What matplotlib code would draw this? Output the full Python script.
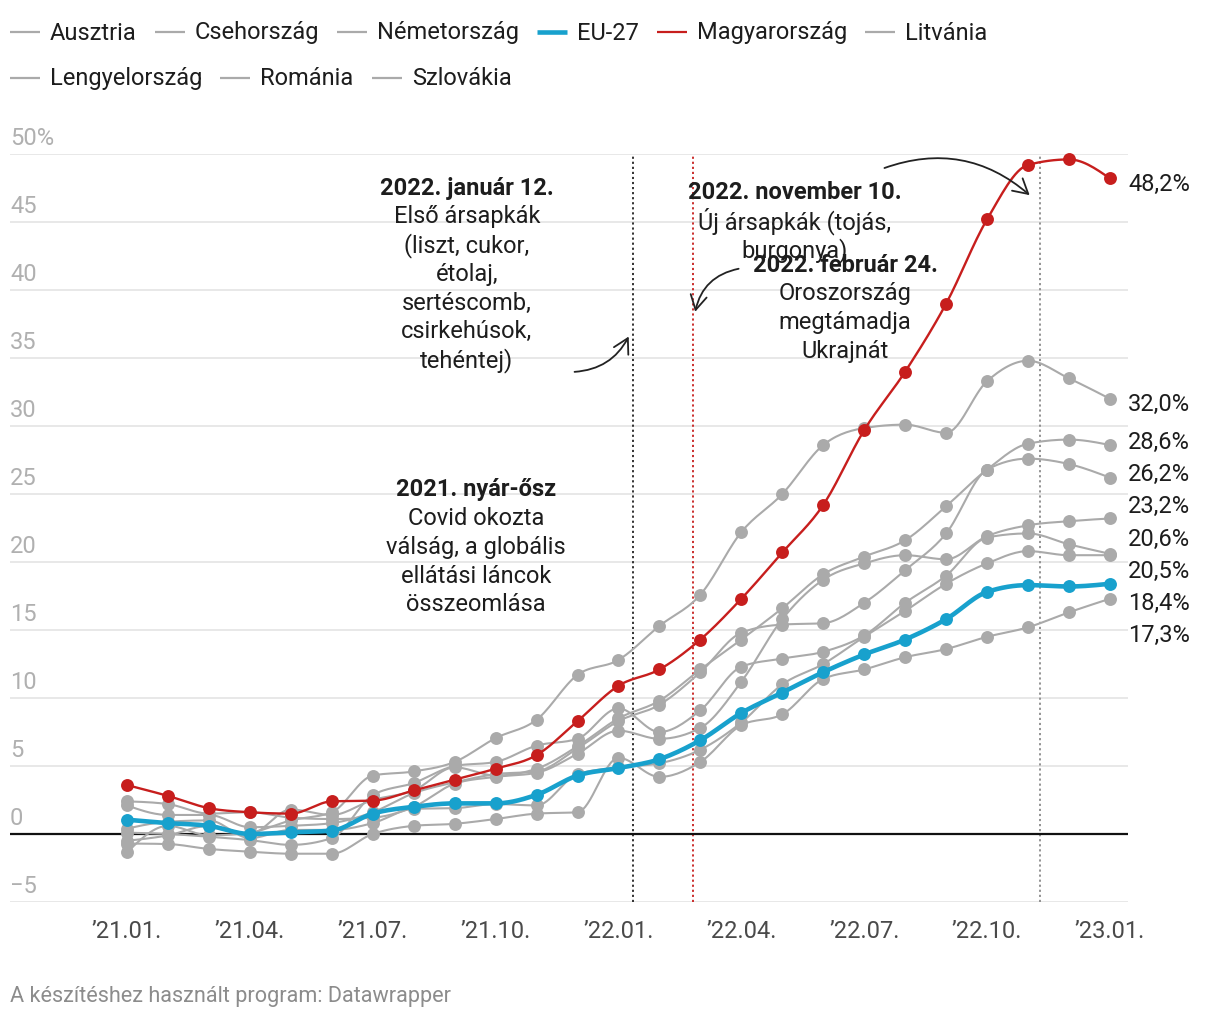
import numpy as np
import matplotlib
matplotlib.use("Agg")
import matplotlib.pyplot as plt
from matplotlib.patches import FancyArrowPatch
from matplotlib.lines import Line2D
import datetime

plt.rcParams['font.family'] = ['Roboto', 'DejaVu Sans']

# ---------------- data ----------------
tick_labels = ["’21.01.", "’21.04.", "’21.07.", "’21.10.", "’22.01.",
               "’22.04.", "’22.07.", "’22.10.", "’23.01."]
start_year, start_month = 2021, 1

magyarorszag = [3.6, 2.8, 1.9, 1.6, 1.5, 2.4, 2.45, 3.2, 4.0, 4.8, 5.8, 8.3, 10.9,
                12.1, 14.3, 17.3, 20.7, 24.2, 29.7, 34.0, 39.0, 45.2, 49.2, 49.6, 48.2]
eu27 = [1.05, 0.8, 0.6, 0.0, 0.12, 0.25, 1.5, 2.0, 2.25, 2.25, 2.88, 4.3, 4.85,
        5.5, 6.9, 8.9, 10.4, 11.9, 13.2, 14.3, 15.8, 17.8, 18.3, 18.2, 18.4]
litvania = [-1.35, 0.6, -0.1, 0.1, 1.0, 1.6, 4.3, 4.6, 5.3, 7.05, 8.4, 11.7, 12.8,
            15.3, 17.6, 22.2, 25.0, 28.6, 29.85, 30.1, 29.5, 33.3, 34.8, 33.5, 32.0]
szlovakia = [-0.5, -0.1, 0.6, 0.0, 1.8, 1.4, 2.5, 3.2, 4.9, 4.3, 4.8, 6.45, 8.5,
             9.8, 12.1, 14.3, 16.6, 19.1, 20.4, 21.6, 24.1, 26.8, 28.7, 29.0, 28.6]
csehorszag = [2.1, 1.4, 1.4, 0.5, 0.6, 0.8, 1.6, 3.0, 3.8, 4.4, 4.6, 6.3, 8.3,
              9.5, 11.9, 14.8, 15.4, 15.5, 17.0, 19.4, 22.1, 26.8, 27.6, 27.2, 26.2]
lengyelorszag = [2.4, 2.2, 1.5, 1.6, 1.2, 1.1, 1.2, 2.0, 3.7, 4.2, 4.5, 5.9, 7.6,
                 7.0, 7.8, 11.2, 15.8, 18.7, 19.9, 20.5, 20.2, 21.9, 22.7, 23.0, 23.2]
romania = [0.1, 0.0, -0.2, -0.45, -0.8, -0.3, 2.85, 3.75, 5.0, 5.3, 6.5, 7.0, 9.24,
           7.5, 9.1, 12.3, 12.9, 13.4, 14.6, 17.0, 19.0, 21.8, 22.1, 21.3, 20.6]
nemetorszag = [0.4, 0.9, 1.0, -0.3, 0.3, 0.3, 0.8, 1.85, 1.9, 2.2, 2.1, 4.4, 4.9,
               5.2, 6.2, 8.2, 11.0, 12.5, 14.5, 16.4, 18.4, 19.9, 20.8, 20.5, 20.5]
ausztria = [-0.7, -0.74, -1.1, -1.3, -1.45, -1.45, 0.0, 0.6, 0.75, 1.1, 1.5, 1.6, 5.6,
            4.2, 5.3, 8.0, 8.8, 11.4, 12.1, 13.0, 13.6, 14.5, 15.2, 16.3, 17.3]

legend_order = ["Ausztria", "Csehország", "Németország", "EU-27", "Magyarország",
                "Litvánia", "Lengyelország", "Románia", "Szlovákia"]
series = {"Ausztria": ausztria, "Csehország": csehorszag, "Németország": nemetorszag,
          "EU-27": eu27, "Magyarország": magyarorszag, "Litvánia": litvania,
          "Lengyelország": lengyelorszag, "Románia": romania, "Szlovákia": szlovakia}

event_dates = ["2022-01-12", "2022-02-24", "2022-11-10"]
y_ticks = [-5, 0, 5, 10, 15, 20, 25, 30, 35, 40, 45, 50]

# ---------------- styles ----------------
GREY = "#aaaaaa"
RED = "#c71e1d"
BLUE = "#18a1cd"
TXT = "#1d1d1d"
FS = 17


def month_pos(date_str):
    d = datetime.date.fromisoformat(date_str)
    nxt = datetime.date(d.year + (d.month // 12), d.month % 12 + 1, 1)
    days = (nxt - datetime.date(d.year, d.month, 1)).days
    return (d.year - start_year) * 12 + (d.month - start_month) + (d.day - 1) / days


def monotone(x, y, n=16):
    x = np.asarray(x, float); y = np.asarray(y, float)
    h = np.diff(x); s = np.diff(y) / h
    m = np.zeros_like(y)
    for i in range(1, len(x) - 1):
        s0, s1 = s[i - 1], s[i]
        p = (s0 * h[i] + s1 * h[i - 1]) / (h[i - 1] + h[i])
        m[i] = (np.sign(s0) + np.sign(s1)) * min(abs(s0), abs(s1), 0.5 * abs(p))
    m[0] = (3 * s[0] - m[1]) / 2
    m[-1] = (3 * s[-1] - m[-2]) / 2
    xs, ys = [], []
    for i in range(len(x) - 1):
        t = np.linspace(0, 1, n, endpoint=(i == len(x) - 2))
        h00 = 2 * t**3 - 3 * t**2 + 1; h10 = t**3 - 2 * t**2 + t
        h01 = -2 * t**3 + 3 * t**2; h11 = t**3 - t**2
        xs.append(x[i] + t * h[i])
        ys.append(h00 * y[i] + h10 * h[i] * m[i] + h01 * y[i + 1] + h11 * h[i] * m[i + 1])
    return np.concatenate(xs), np.concatenate(ys)


fig = plt.figure(figsize=(12.2, 10.2), dpi=100)
W, H = 1220, 1020
ax = fig.add_axes([10 / W, 1 - 903 / H, (1128 - 10) / W, (903 - 155) / H])
n = len(eu27)
x = np.arange(n)
ax.set_xlim(-2.856, 24.44)
ax.set_ylim(-5, 50)
for sp in ax.spines.values():
    sp.set_visible(False)

# grid + y labels
for t in y_ticks:
    if t == 0:
        ax.axhline(t, color="#111111", lw=1.6, zorder=2)
    else:
        ax.axhline(t, color="#e6e6e6", lw=1.3, zorder=0)
    lbl = "50%" if t == 50 else ("\u22125" if t < 0 else str(t))
    ax.annotate(lbl, xy=(0, t), xycoords=ax.get_yaxis_transform(), xytext=(0, 7.5),
                textcoords="offset points", ha="left", va="baseline",
                fontsize=FS, color="#b0b0b0")
ax.set_yticks([])
ax.set_xticks(np.arange(0, n, 3))
ax.set_xticklabels(tick_labels, fontsize=FS, color="#4a4a4a")
ax.tick_params(axis="x", length=0, pad=12)

# event lines
ev_colors = ["#222222", RED, "#8a8a8a"]
for d, c in zip(event_dates, ev_colors):
    ax.axvline(month_pos(d), color=c, lw=1.3, ls=(0, (1.2, 1.6)), zorder=1)

# series
def draw(vals, color, lw, z):
    xs, ys = monotone(x, vals)
    ax.plot(xs, ys, color=color, lw=lw, zorder=z, solid_capstyle="round", clip_on=False)
    ax.plot(x, vals, ls="none", marker="o", ms=9.3, color=color, mec="none",
            zorder=z + 0.5, clip_on=False)

for name in legend_order:
    if name in ("EU-27", "Magyarország"):
        continue
    draw(series[name], GREY, 1.5, 3)
draw(eu27, BLUE, 3.3, 5)
draw(magyarorszag, RED, 1.7, 6)

# end labels with dodge
last_vals = np.array([series[k][-1] for k in legend_order])
order = np.argsort(-last_vals)
pos = last_vals[order].astype(float).copy()
gap = 2.37
for _ in range(500):
    moved = False
    for i in range(len(pos) - 1):
        d = pos[i] - pos[i + 1]
        if d < gap - 1e-9:
            sh = (gap - d) / 2
            pos[i] += sh; pos[i + 1] -= sh
            moved = True
    if not moved:
        break
for v, p in zip(last_vals[order], pos):
    ax.annotate(f"{v:.1f}".replace(".", ",") + "%", xy=(n - 1, p), xytext=(13, -3.5),
                textcoords="offset points", ha="left", va="center", fontsize=FS,
                color=TXT, annotation_clip=False)

# annotations
def note(xm, yv, lines):
    for i, line in enumerate(lines):
        ax.annotate(line, xy=(xm, yv), xytext=(0, -i * 20.7), textcoords="offset points",
                    ha="center", va="center", fontsize=FS, color=TXT,
                    fontweight="bold" if i == 0 else "normal", zorder=8)

note(8.30, 47.57, ["2022. január 12.", "Első ársapkák", "(liszt, cukor,", "étolaj,",
                   "sertéscomb,", "csirkehúsok,", "tehéntej)"])
note(16.31, 47.21, ["2022. november 10.", "Új ársapkák (tojás,", "burgonya)"])
note(17.53, 41.91, ["2022. február 24.", "Oroszország", "megtámadja", "Ukrajnát"])
note(8.52, 25.37, ["2021. nyár-ősz", "Covid okozta", "válság, a globális",
                   "ellátási láncok", "összeomlása"])

def arrow(p0, p1, rad):
    a = FancyArrowPatch(p0, p1, connectionstyle=f"arc3,rad={rad}",
                        arrowstyle="->,head_length=8,head_width=4.5",
                        color="#222222", lw=1.3, zorder=9, mutation_scale=1.3)
    ax.add_patch(a)

arrow((10.86, 33.97), (12.28, 36.76), 0.3)
arrow((15.00, 41.6), (13.86, 38.2), 0.35)
arrow((18.43, 48.90), (22.09, 46.84), -0.3)

# legend
fig.canvas.draw()
rend = fig.canvas.get_renderer()
leg_rows = [legend_order[:6], legend_order[6:]]
row_y = [33, 79]
for row, yy in zip(leg_rows, row_y):
    xp = 10
    for name in row:
        col = BLUE if name == "EU-27" else (RED if name == "Magyarország" else GREY)
        lw = 3.3 if name == "EU-27" else 1.6
        fig.add_artist(Line2D([xp / W, (xp + 30) / W], [1 - yy / H, 1 - yy / H],
                              color=col, lw=lw, transform=fig.transFigure,
                              solid_capstyle="butt"))
        t = fig.text((xp + 40) / W, 1 - yy / H, name, fontsize=FS, color=TXT,
                     ha="left", va="center")
        w = t.get_window_extent(rend).width
        xp = xp + 40 + w + 18

fig.text(10 / W, 1 - 997 / H, "A készítéshez használt program: Datawrapper",
         fontsize=15.6, color="#8c8c8c", ha="left", va="center")

fig.savefig("out.png", dpi=100, facecolor="white")
